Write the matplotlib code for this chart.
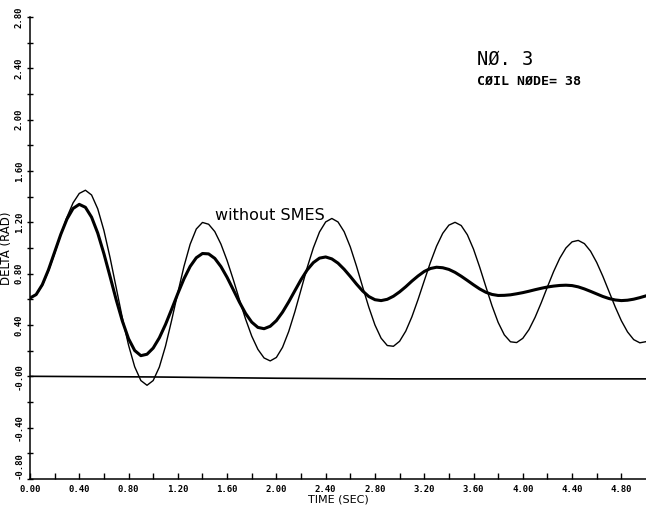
import matplotlib
matplotlib.use("Agg")
import matplotlib.pyplot as plt
import numpy as np

time_s = np.round(np.arange(0, 5.0001, 0.05), 2)

# thin curve: without SMES
delta_without_smes = [
    0.61, 0.635, 0.708, 0.82, 0.957, 1.103, 1.24, 1.352, 1.425, 1.45,
    1.413, 1.305, 1.137, 0.925, 0.69, 0.454, 0.243, 0.074, -0.033, -0.07,
    -0.033, 0.072, 0.235, 0.437, 0.651, 0.857, 1.029, 1.148, 1.199, 1.185,
    1.128, 1.03, 0.902, 0.754, 0.597, 0.446, 0.313, 0.21, 0.143, 0.12,
    0.147, 0.226, 0.349, 0.503, 0.675, 0.847, 1.001, 1.125, 1.203, 1.23,
    1.203, 1.127, 1.008, 0.859, 0.697, 0.539, 0.40, 0.297, 0.24, 0.234,
    0.273, 0.352, 0.464, 0.599, 0.744, 0.887, 1.014, 1.114, 1.178, 1.20,
    1.175, 1.103, 0.991, 0.851, 0.699, 0.55, 0.42, 0.323, 0.269, 0.263,
    0.296, 0.364, 0.46, 0.574, 0.697, 0.816, 0.92, 1.0, 1.048, 1.059,
    1.034, 0.975, 0.887, 0.779, 0.66, 0.541, 0.433, 0.346, 0.286, 0.261,
    0.27,
]

# thick curve: with SMES
delta_with_smes = [
    0.61, 0.637, 0.714, 0.83, 0.968, 1.106, 1.225, 1.308, 1.34, 1.317,
    1.24, 1.116, 0.956, 0.778, 0.596, 0.43, 0.293, 0.201, 0.161, 0.172,
    0.22, 0.30, 0.404, 0.523, 0.645, 0.76, 0.856, 0.924, 0.957, 0.954,
    0.919, 0.855, 0.771, 0.675, 0.578, 0.49, 0.422, 0.381, 0.371, 0.39,
    0.434, 0.50, 0.58, 0.667, 0.753, 0.829, 0.886, 0.921, 0.93, 0.915,
    0.882, 0.834, 0.778, 0.719, 0.665, 0.622, 0.597, 0.59, 0.60, 0.624,
    0.658, 0.698, 0.742, 0.782, 0.817, 0.84, 0.85, 0.846, 0.833, 0.81,
    0.78, 0.747, 0.713, 0.681, 0.655, 0.638, 0.63, 0.631, 0.635, 0.643,
    0.652, 0.663, 0.675, 0.686, 0.696, 0.703, 0.708, 0.71, 0.707, 0.697,
    0.681, 0.662, 0.642, 0.622, 0.606, 0.595, 0.59, 0.593, 0.601, 0.613,
    0.627,
]

# near-zero trace
ref_time = [0.0, 1.0, 2.0, 3.0, 5.0]
ref_values = [0.0, -0.005, -0.015, -0.02, -0.02]

x_ticks = [0.0, 0.4, 0.8, 1.2, 1.6, 2.0, 2.4, 2.8, 3.2, 3.6, 4.0, 4.4, 4.8]
x_tick_labels = ["0.00", "0.40", "0.80", "1.20", "1.60", "2.00", "2.40",
                 "2.80", "3.20", "3.60", "4.00", "4.40", "4.80"]
y_ticks = [-0.8, -0.4, 0.0, 0.4, 0.8, 1.2, 1.6, 2.0, 2.4, 2.8]
y_tick_labels = ["-0.80", "-0.40", "-0.00", "0.40", "0.80", "1.20",
                 "1.60", "2.00", "2.40", "2.80"]

fig = plt.figure(figsize=(6.46, 5.09), dpi=100)
ax = fig.add_axes([0.0464, 0.059, 0.9536, 0.9076])

ax.plot(time_s, delta_without_smes, color="black", lw=1.0)
ax.plot(time_s, delta_with_smes, color="black", lw=2.2)
ax.plot(ref_time, ref_values, color="black", lw=1.2)

ax.set_xlim(0, 5.0)
ax.set_ylim(-0.8, 2.8)
ax.spines["top"].set_visible(False)
ax.spines["right"].set_visible(False)
for side in ("left", "bottom"):
    ax.spines[side].set_linewidth(1.1)

mono = {"family": "DejaVu Sans Mono", "size": 6.5, "weight": "bold"}
ax.set_xticks(x_ticks)
ax.set_xticklabels(x_tick_labels, fontdict=mono)
ax.set_xticks(np.arange(0.2, 5.0, 0.4), minor=True)
ax.set_yticks(y_ticks)
ax.set_yticklabels(y_tick_labels, fontdict=mono, rotation=90, va="center")
ax.get_yticklabels()[0].set_va("bottom")
ax.set_yticks(np.arange(-0.6, 2.8, 0.4), minor=True)
ax.tick_params(axis="x", which="both", direction="in", length=4, width=1, pad=4)
ax.tick_params(axis="y", which="both", direction="inout", length=5, width=1, pad=2)

ax.set_xlabel("TIME (SEC)", family="DejaVu Sans", fontsize=8, labelpad=1)
ax.set_ylabel("DELTA (RAD)", family="DejaVu Sans", fontsize=8.5, labelpad=1)

ax.text(3.63, 2.43, "NØ. 3", family="DejaVu Sans Mono", fontsize=13.5,
        va="baseline")
ax.text(3.63, 2.27, "CØIL NØDE= 38", family="DejaVu Sans Mono", fontsize=9.5,
        weight="bold", va="baseline")
ax.text(1.50, 1.22, "without SMES", family="DejaVu Sans", fontsize=11.5,
        va="baseline")

fig.savefig("out.png", dpi=100)
